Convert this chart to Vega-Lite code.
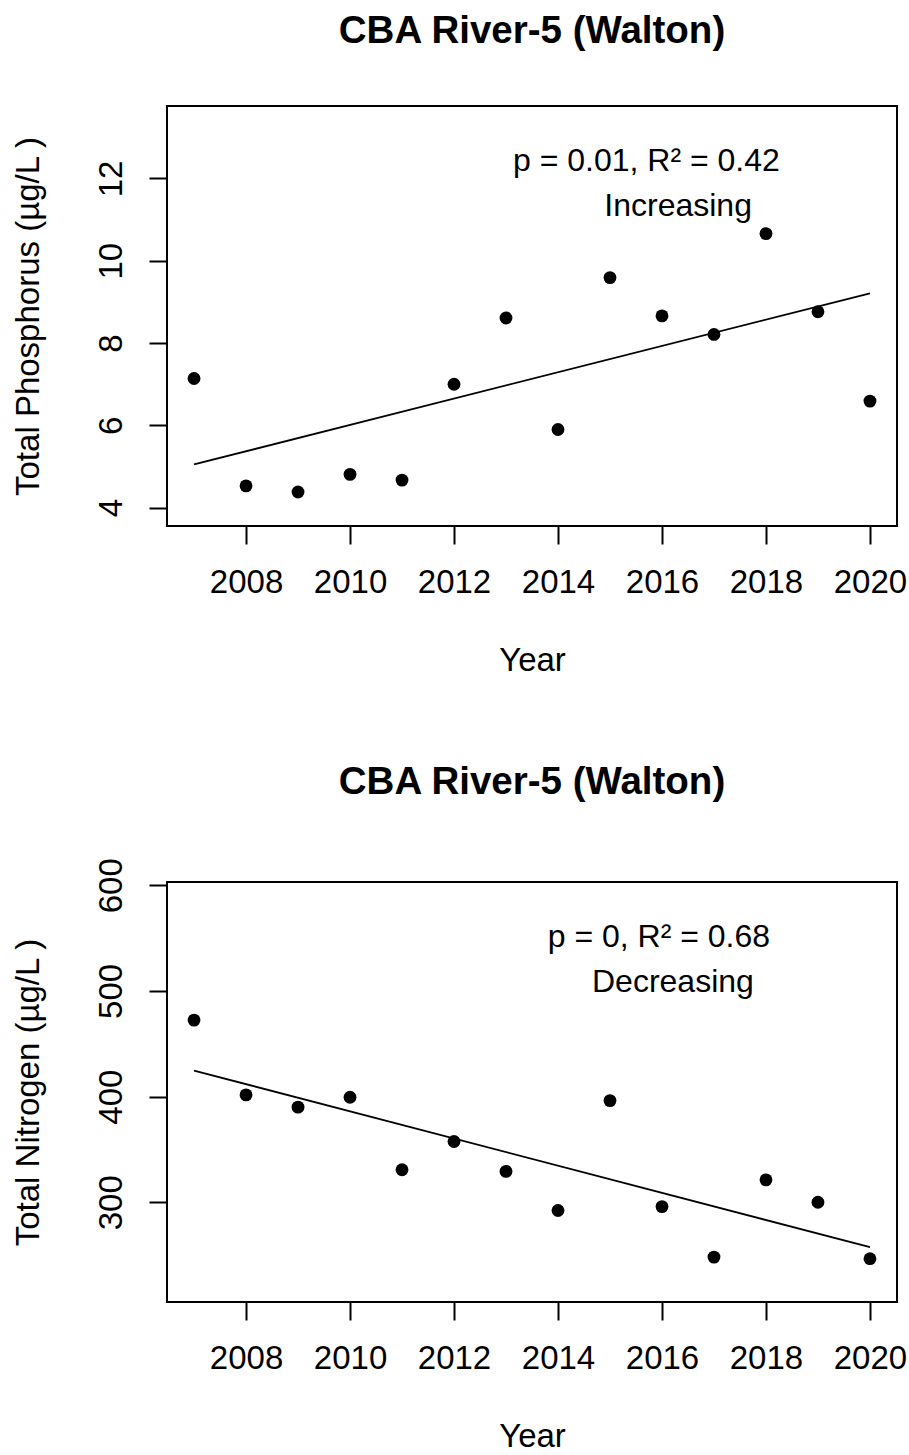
{
  "$schema": "https://vega.github.io/schema/vega-lite/v6.json",
  "background": "white",
  "padding": {"left": 10, "top": 10, "right": 0, "bottom": 0},
  "spacing": 84,
  "config": {
    "font": "Liberation Sans",
    "view": {"stroke": "#000", "strokeWidth": 2},
    "axis": {
      "domain": false, "grid": false, "ticks": true,
      "tickColor": "#000", "tickSize": 18, "tickWidth": 2,
      "labelFont": "Liberation Sans", "labelFontSize": 33, "labelColor": "#000",
      "labelOverlap": false, "labelFlush": false,
      "titleFont": "Liberation Sans", "titleFontSize": 33, "titleFontWeight": "normal", "titleColor": "#000"
    },
    "axisX": {"labelPadding": 22, "titlePadding": 45},
    "axisY": {"labelAngle": -90, "labelAlign": "center", "labelBaseline": "alphabetic", "labelPadding": 28, "titlePadding": 50},
    "title": {"font": "Liberation Sans", "fontSize": 38.5, "fontWeight": "bold", "color": "#000", "anchor": "middle", "offset": 55}
  },
  "datasets": {
    "tp": [
      {"year": 2007, "value": 7.14}, {"year": 2008, "value": 4.53}, {"year": 2009, "value": 4.38},
      {"year": 2010, "value": 4.81}, {"year": 2011, "value": 4.67}, {"year": 2012, "value": 7.0},
      {"year": 2013, "value": 8.61}, {"year": 2014, "value": 5.9}, {"year": 2015, "value": 9.59},
      {"year": 2016, "value": 8.66}, {"year": 2017, "value": 8.21}, {"year": 2018, "value": 10.66},
      {"year": 2019, "value": 8.76}, {"year": 2020, "value": 6.59}
    ],
    "tp_fit": [{"year": 2007, "value": 5.05}, {"year": 2020, "value": 9.21}],
    "tp_note": [
      {"year": 2015.7, "value": 12.18, "label": "p = 0.01, R² = 0.42"},
      {"year": 2016.31, "value": 11.09, "label": "Increasing"}
    ],
    "tn": [
      {"year": 2007, "value": 472.4}, {"year": 2008, "value": 401.6}, {"year": 2009, "value": 390.0},
      {"year": 2010, "value": 399.4}, {"year": 2011, "value": 330.8}, {"year": 2012, "value": 357.5},
      {"year": 2013, "value": 329.2}, {"year": 2014, "value": 292.2}, {"year": 2015, "value": 396.2},
      {"year": 2016, "value": 295.9}, {"year": 2017, "value": 248.1}, {"year": 2018, "value": 321.2},
      {"year": 2019, "value": 300.0}, {"year": 2020, "value": 246.6}
    ],
    "tn_fit": [{"year": 2007, "value": 424.6}, {"year": 2020, "value": 257.5}],
    "tn_note": [
      {"year": 2015.94, "value": 541.6, "label": "p = 0, R² = 0.68"},
      {"year": 2016.21, "value": 499.2, "label": "Decreasing"}
    ]
  },
  "vconcat": [
    {
      "width": 730, "height": 420,
      "title": "CBA River-5 (Walton)",
      "encoding": {
        "x": {"field": "year", "type": "quantitative",
              "scale": {"domain": [2006.48, 2020.52], "nice": false, "zero": false},
              "axis": {"values": [2008, 2010, 2012, 2014, 2016, 2018, 2020], "format": "d", "title": "Year"}},
        "y": {"field": "value", "type": "quantitative",
              "scale": {"domain": [3.555, 13.76], "nice": false, "zero": false},
              "axis": {"values": [4, 6, 8, 10, 12], "title": "Total Phosphorus (µg/L )"}}
      },
      "layer": [
        {"data": {"name": "tp_fit"}, "mark": {"type": "line", "color": "#000", "strokeWidth": 1.8}},
        {"data": {"name": "tp"}, "mark": {"type": "point", "shape": "circle", "filled": true, "color": "#000", "opacity": 1, "size": 165}},
        {"data": {"name": "tp_note"}, "mark": {"type": "text", "fontSize": 32, "color": "#000", "align": "center", "baseline": "alphabetic"},
         "encoding": {"text": {"field": "label"}}}
      ]
    },
    {
      "width": 730, "height": 420,
      "title": "CBA River-5 (Walton)",
      "encoding": {
        "x": {"field": "year", "type": "quantitative",
              "scale": {"domain": [2006.48, 2020.52], "nice": false, "zero": false},
              "axis": {"values": [2008, 2010, 2012, 2014, 2016, 2018, 2020], "format": "d", "title": "Year"}},
        "y": {"field": "value", "type": "quantitative",
              "scale": {"domain": [205.6, 603.1], "nice": false, "zero": false},
              "axis": {"values": [300, 400, 500, 600], "title": "Total Nitrogen (µg/L )"}}
      },
      "layer": [
        {"data": {"name": "tn_fit"}, "mark": {"type": "line", "color": "#000", "strokeWidth": 1.8}},
        {"data": {"name": "tn"}, "mark": {"type": "point", "shape": "circle", "filled": true, "color": "#000", "opacity": 1, "size": 165}},
        {"data": {"name": "tn_note"}, "mark": {"type": "text", "fontSize": 32, "color": "#000", "align": "center", "baseline": "alphabetic"},
         "encoding": {"text": {"field": "label"}}}
      ]
    }
  ]
}
